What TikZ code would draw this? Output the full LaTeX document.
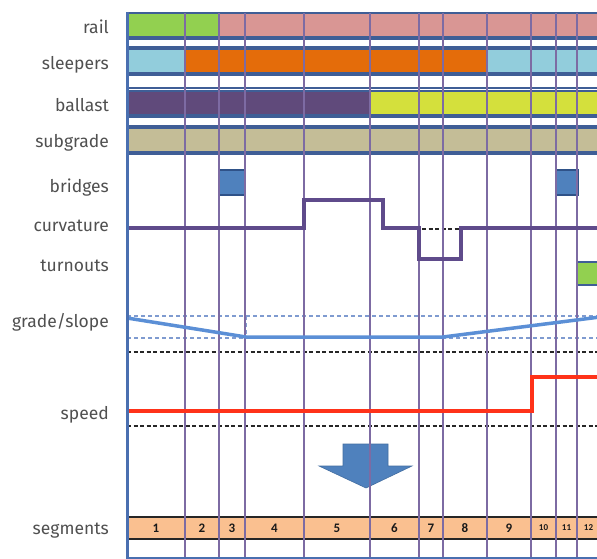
\documentclass[tikz,border=0pt]{standalone}
\usepackage{fontspec}
\setmainfont{Fira Sans}
\newfontfamily\numfont{Carlito}
\definecolor{frame}{HTML}{3F5E96}
\definecolor{gridc}{HTML}{7D6BA3}
\definecolor{lblc}{HTML}{505050}
\definecolor{railg}{HTML}{92D050}
\definecolor{railp}{HTML}{D99694}
\definecolor{sleb}{HTML}{92CDDC}
\definecolor{sleo}{HTML}{E46C0A}
\definecolor{balp}{HTML}{604A7B}
\definecolor{baly}{HTML}{D4E03C}
\definecolor{subt}{HTML}{C4BD97}
\definecolor{bridgeb}{HTML}{4F81BD}
\definecolor{bridged}{HTML}{2F5288}
\definecolor{curvc}{HTML}{5F4B8B}
\definecolor{gradec}{HTML}{5B8FD6}
\definecolor{gradedash}{HTML}{7F9BD0}
\definecolor{speedc}{HTML}{FF3219}
\definecolor{segf}{HTML}{FAC090}
\definecolor{leftb}{HTML}{4A6FB0}
\tikzset{
  lbl/.style={anchor=base east, inner sep=0pt, text=lblc, font=\fontsize{17.5}{17.5}\selectfont},
  band/.style={draw=frame, line width=2pt},
  gridline/.style={draw=gridc, line width=1.1pt},
  blackdash/.style={draw=black!85, line width=1.4pt, dash pattern=on 4pt off 2.5pt},
  bluedash/.style={draw=gradedash, line width=1.1pt, dash pattern=on 4pt off 3pt},
  curvline/.style={draw=curvc, line width=3.2pt},
  gradeline/.style={draw=gradec, line width=3.5pt},
  speedline/.style={draw=speedc, line width=3.5pt},
  bridgebox/.style={fill=bridgeb, draw=bridged, line width=1.8pt},
  segbox/.style={fill=segf, draw=black!85, line width=2.3pt},
  segnum/.style={inner sep=0pt, font=\numfont\bfseries\fontsize{13}{13}\selectfont, text=black!90},
  segnumsmall/.style={inner sep=0pt, font=\numfont\bfseries\fontsize{9}{9}\selectfont, text=black!90},
}
\begin{document}
\begin{tikzpicture}[x=1pt,y=-1pt]
\useasboundingbox (0,0) rectangle (597,559);
\fill[white] (0,0) rectangle (597,559);
% top bands
\draw[band, fill=railg] (127,13) rectangle (219,37);
\draw[band, fill=railp] (219,13) rectangle (600,37);
\draw[band, fill=white] (127,39.5) rectangle (600,47);
\draw[band, fill=sleb] (127,49) rectangle (185,73);
\draw[band, fill=sleo] (185,49) rectangle (487,73);
\draw[band, fill=sleb] (487,49) rectangle (600,73);
\draw[band, fill=white] (127,75.5) rectangle (600,88.5);
\draw[band, fill=balp] (127,91) rectangle (370,115);
\draw[band, fill=baly] (370,91) rectangle (600,115);
\draw[band, fill=white] (127,117.5) rectangle (600,126);
\draw[band, fill=subt] (127,128) rectangle (600,152);
\draw[band] (127,154) -- (600,154);
% bridges and turnouts
\draw[bridgebox] (219.5,170) rectangle (245,195);
\draw[bridgebox] (556.5,170) rectangle (578,195);
\draw[bridgebox, fill=railg, draw=frame] (577.5,262) rectangle (602,285);
% grade dashed guides
\draw[bluedash] (127,316) -- (600,316);
\draw[bluedash] (127,338) -- (600,338);
\draw[bluedash] (246,316) -- (246,338);
\draw[blackdash] (127,352) -- (600,352);
\draw[blackdash] (383,229) -- (461,229);
\draw[blackdash] (127,426) -- (600,426);
% arrow
\draw[fill=bridgeb, draw=bridgeb!85!black, line width=0.6pt] (343,444) -- (388,444) -- (388,466) -- (412,466) -- (366,488) -- (319,466) -- (343,466) -- cycle;
% segments
\foreach \a/\b/\t in {127/185/1,185/219/2,219/245/3,245/304/4,304/370/5,370/419/6,419/443/7,443/487/8,487/531/9}{
  \draw[segbox] (\a,517) rectangle (\b,539);
  \node[segnum] (seg\t) at ({(\a+\b)/2},528) {\t};
}
\foreach \a/\b/\t in {531/556/10,556/577/11,577/600/12}{
  \draw[segbox] (\a,517) rectangle (\b,539);
  \node[segnumsmall] (seg\t) at ({(\a+\b)/2},528) {\t};
}
% vertical grid lines
\foreach \x in {185,219,245,304,370,419,443,531,556,577}{
  \draw[gridline] (\x,13) -- (\x,559);
}
\draw[gridline, line width=1.6pt] (487,13) -- (487,559);
% curvature
\draw[curvline] (127,228) -- (304,228) -- (304,200) -- (383,200) -- (383,228) -- (419,228) -- (419,259) -- (461,259) -- (461,228) -- (600,228);
% grade
\draw[gradeline] (127,318) -- (246,337) -- (443,337) -- (600,317);
% speed
\draw[speedline] (127,411) -- (532,411) -- (532,377) -- (600,377);
% frame left and bottom
\draw[leftb, line width=3pt] (127,12) -- (127,559);
\draw[leftb, line width=2.5pt] (127,558) -- (600,558);
% labels
\node[lbl] (lrail) at (109,34) {rail};
\node[lbl] (lsleep) at (109,70) {sleepers};
\node[lbl] (lballast) at (109,112) {ballast};
\node[lbl] (lsub) at (109,148) {subgrade};
\node[lbl] (lbridge) at (109,192) {bridges};
\node[lbl] (lcurv) at (109,231) {curvature};
\node[lbl] (lturn) at (109,271) {turnouts};
\node[lbl] (lgrade) at (109,327) {grade/slope};
\node[lbl] (lspeed) at (109,419) {speed};
\node[lbl] (lseg) at (109,534) {segments};
\end{tikzpicture}
\end{document}
